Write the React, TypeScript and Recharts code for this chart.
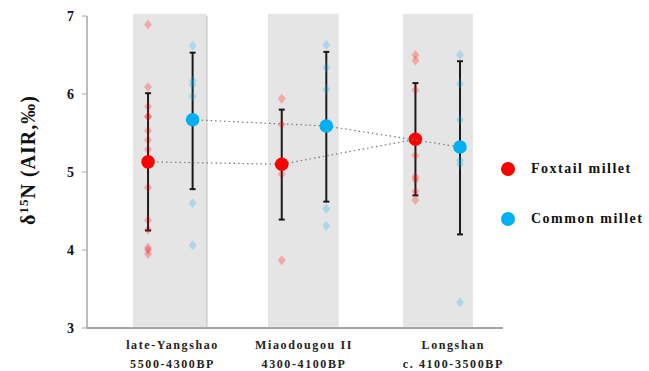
import {
  ScatterChart,
  Scatter,
  XAxis,
  YAxis,
  ErrorBar,
  ReferenceArea,
  ReferenceLine,
} from 'recharts'

// ── Data ─────────────────────────────────────────────────────────────────────

const PERIODS      = ['late-Yangshao', 'Miaodougou II', 'Longshan']
const PERIOD_DATES = ['5500-4300BP', '4300-4100BP', 'c. 4100-3500BP']
const LABEL_POS    = [1.55, 4.5, 7.85]

const FOXTAIL_X = [1, 4, 7]
const COMMON_X  = [2, 5, 8]

const FOXTAIL_SAMPLES = [
  [6.89, 6.09, 5.84, 5.71, 5.71, 5.53, 5.41, 5.29, 4.80, 4.38, 4.26, 4.03, 4.00, 3.95],
  [5.94, 5.61, 4.97, 3.87],
  [6.50, 6.43, 6.05, 5.21, 4.94, 4.90, 4.75, 4.64],
]
const COMMON_SAMPLES = [
  [6.62, 6.17, 6.12, 5.97, 4.60, 4.06],
  [6.63, 6.34, 6.06, 4.53, 4.31],
  [6.50, 6.13, 5.67, 5.15, 5.10, 3.33],
]

const FOXTAIL_MEAN = [5.13, 5.10, 5.42]
const FOXTAIL_LOW  = [4.25, 4.39, 4.70]
const FOXTAIL_HIGH = [6.01, 5.80, 6.14]

const COMMON_MEAN = [5.67, 5.59, 5.32]
const COMMON_LOW  = [4.78, 4.62, 4.20]
const COMMON_HIGH = [6.53, 6.54, 6.42]

const BANDS = [[0.66, 2.32], [3.69, 5.28], [6.72, 8.29]]
const Y_TICKS = [3, 4, 5, 6, 7]

// ── Derived series ───────────────────────────────────────────────────────────

const foxtailPts = FOXTAIL_SAMPLES.flatMap((vals, i) => vals.map(y => ({ x: FOXTAIL_X[i], y })))
const commonPts  = COMMON_SAMPLES.flatMap((vals, i) => vals.map(y => ({ x: COMMON_X[i], y })))

const foxtailMeans = FOXTAIL_MEAN.map((m, i) => ({
  x: FOXTAIL_X[i], y: m, err: [m - FOXTAIL_LOW[i], FOXTAIL_HIGH[i] - m],
}))
const commonMeans = COMMON_MEAN.map((m, i) => ({
  x: COMMON_X[i], y: m, err: [m - COMMON_LOW[i], COMMON_HIGH[i] - m],
}))

// ── Styles ───────────────────────────────────────────────────────────────────

const SERIF = '"Liberation Serif", "Times New Roman", serif'
const RED   = '#ff0000'
const BLUE  = '#00b0f0'
const AXIS  = '#a6a6a6'

// eslint-disable-next-line @typescript-eslint/no-explicit-any
const diamond = (color: string) => (p: any) => (
  <polygon
    points={`${p.cx},${p.cy - 5} ${p.cx + 4},${p.cy} ${p.cx},${p.cy + 5} ${p.cx - 4},${p.cy}`}
    fill={color}
    fillOpacity={0.25}
  />
)

// eslint-disable-next-line @typescript-eslint/no-explicit-any
const dot = (color: string) => (p: any) => <circle cx={p.cx} cy={p.cy} r={6.8} fill={color} />

// eslint-disable-next-line @typescript-eslint/no-explicit-any
function PeriodTick({ x, y, payload }: any) {
  const i = LABEL_POS.indexOf(payload.value)
  const style = { fontFamily: SERIF, fontWeight: 700, fontSize: 12, letterSpacing: 1.6, fill: '#222' }
  return (
    <g>
      <text x={x} y={y + 13} textAnchor="middle" style={style}>{PERIODS[i]}</text>
      <text x={x} y={y + 32} textAnchor="middle" style={style}>{PERIOD_DATES[i]}</text>
    </g>
  )
}

function YLabel() {
  return (
    <text
      x={35}
      y={160}
      transform="rotate(-90, 35, 160)"
      textAnchor="middle"
      style={{ fontFamily: SERIF, fontWeight: 700, fontSize: 20, letterSpacing: 1, fill: '#111' }}
    >
      <tspan>δ</tspan>
      <tspan dy={-7} fontSize={13}>15</tspan>
      <tspan dy={7}>N (AIR,‰)</tspan>
    </text>
  )
}

function LegendItem({ color, label, top }: { color: string; label: string; top: number }) {
  return (
    <div style={{ position: 'absolute', left: 501, top: top - 10, height: 20, display: 'flex', alignItems: 'center' }}>
      <span style={{ width: 14, height: 14, borderRadius: '50%', background: color, display: 'inline-block' }} />
      <span style={{
        marginLeft: 16, fontFamily: SERIF, fontWeight: 700, fontSize: 14,
        letterSpacing: 1.5, color: '#111', whiteSpace: 'nowrap',
      }}>
        {label}
      </span>
    </div>
  )
}

export default function App() {
  return (
    <div style={{ position: 'absolute', left: 0, top: 0, width: 649, height: 371, background: '#fff' }}>
      <ScatterChart width={649} height={371} margin={{ top: 16, right: 146, bottom: 2, left: 27 }}>
        {BANDS.map(([a, b], i) => (
          <ReferenceArea key={i} x1={a} x2={b} y1={3} y2={7.03} ifOverflow="visible"
            fill="#e5e5e5" fillOpacity={1} stroke="none" />
        ))}
        <ReferenceLine x={BANDS[0][1]} stroke="#cfcfcf" strokeWidth={1.5} />

        <XAxis
          type="number"
          dataKey="x"
          domain={[-0.37, 8.965]}
          ticks={LABEL_POS}
          allowDataOverflow
          height={41}
          tickLine={false}
          axisLine={{ stroke: AXIS, strokeWidth: 2 }}
          tick={<PeriodTick />}
          interval={0}
        />
        <YAxis
          type="number"
          dataKey="y"
          domain={[3, 7]}
          ticks={Y_TICKS}
          width={60}
          tickSize={5}
          tickMargin={8}
          tickLine={{ stroke: AXIS }}
          axisLine={{ stroke: AXIS, strokeWidth: 1.5 }}
          tick={{ fill: '#111', fontSize: 14, fontWeight: 700, fontFamily: SERIF }}
          label={{ content: <YLabel /> }}
        />

        <Scatter data={foxtailPts} shape={diamond(RED)} isAnimationActive={false} />
        <Scatter data={commonPts} shape={diamond(BLUE)} isAnimationActive={false} />

        <Scatter data={foxtailMeans} shape={dot(RED)} isAnimationActive={false}
          line={{ stroke: '#777', strokeWidth: 1.2, strokeDasharray: '1.5 3' }}>
          <ErrorBar dataKey="err" direction="y" width={3} stroke="#1a1a1a" strokeWidth={2} isAnimationActive={false} />
        </Scatter>
        <Scatter data={commonMeans} shape={dot(BLUE)} isAnimationActive={false}
          line={{ stroke: '#777', strokeWidth: 1.2, strokeDasharray: '1.5 3' }}>
          <ErrorBar dataKey="err" direction="y" width={3} stroke="#1a1a1a" strokeWidth={2} isAnimationActive={false} />
        </Scatter>
      </ScatterChart>

      <LegendItem color={RED} label="Foxtail millet" top={169} />
      <LegendItem color={BLUE} label="Common millet" top={219} />
    </div>
  )
}
